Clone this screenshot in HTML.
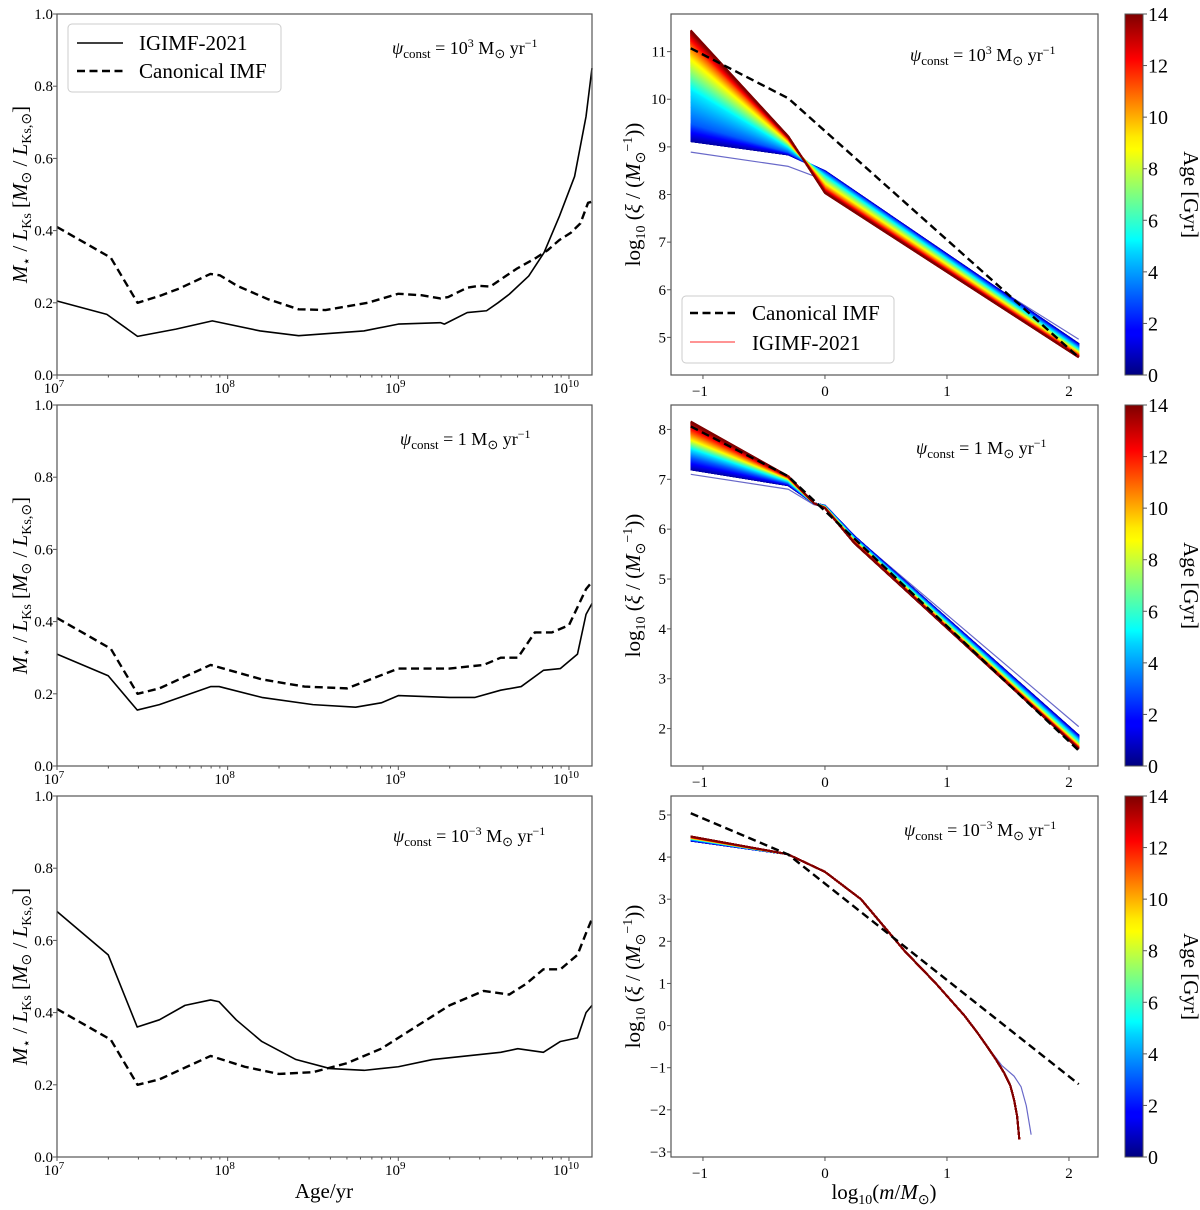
<!DOCTYPE html>
<html><head><meta charset="utf-8"><style>
body{margin:0;background:#fff}
svg{display:block}
text{font-family:"Liberation Serif",serif;fill:#000}
</style></head><body>
<svg id="fig" width="1200" height="1210" viewBox="0 0 1200 1210" xmlns="http://www.w3.org/2000/svg">
<defs>
<linearGradient id="jet" x1="0" y1="1" x2="0" y2="0">
<stop offset="0" stop-color="#00007f"/><stop offset="0.11" stop-color="#0000ff"/><stop offset="0.125" stop-color="#0000ff"/><stop offset="0.34" stop-color="#00d4ff"/><stop offset="0.375" stop-color="#0ff"/><stop offset="0.5" stop-color="#7fff7f"/><stop offset="0.625" stop-color="#ff0"/><stop offset="0.66" stop-color="#ffea00"/><stop offset="0.875" stop-color="#ff0000"/><stop offset="1" stop-color="#7f0000"/>
</linearGradient>
</defs>
<g id="root"></g>
</svg>
<script>
// ---------- Left panels data (log10 age, M/L) ----------
const topSolidT=[7.0,7.292,7.472,7.697,7.91,8.191,8.416,8.798,9.0,9.247,9.27,9.404,9.517,9.584,9.651,9.764,9.854,9.944,10.033,10.1,10.135];
const topSolidV=[0.205,0.168,0.107,0.127,0.15,0.122,0.109,0.122,0.141,0.145,0.141,0.173,0.178,0.2,0.224,0.274,0.339,0.44,0.55,0.716,0.85];
const topDashT=[7.0,7.315,7.472,7.607,7.719,7.899,7.955,8.056,8.236,8.416,8.573,8.82,9.0,9.135,9.247,9.292,9.404,9.472,9.539,9.629,9.696,9.809,9.876,9.944,10.011,10.067,10.112,10.135];
const topDashV=[0.41,0.325,0.2,0.22,0.24,0.28,0.276,0.247,0.21,0.182,0.18,0.2,0.225,0.221,0.212,0.216,0.242,0.247,0.245,0.274,0.295,0.325,0.346,0.374,0.394,0.42,0.477,0.48];
const midSolidT=[7.0,7.3,7.47,7.6,7.9,7.95,8.2,8.5,8.75,8.9,9.0,9.3,9.45,9.6,9.72,9.85,9.95,10.05,10.1,10.135];
const midSolidV=[0.31,0.25,0.155,0.17,0.22,0.22,0.19,0.17,0.163,0.175,0.195,0.19,0.19,0.21,0.22,0.265,0.27,0.31,0.42,0.45];
const midDashT=[7.0,7.315,7.472,7.6,7.9,8.2,8.45,8.7,9.0,9.3,9.5,9.6,9.7,9.8,9.9,10.0,10.1,10.135];
const midDashV=[0.41,0.325,0.2,0.215,0.28,0.24,0.22,0.215,0.27,0.27,0.28,0.3,0.3,0.37,0.37,0.39,0.49,0.51];
const botSolidT=[7.0,7.3,7.47,7.6,7.75,7.9,7.95,8.05,8.2,8.4,8.6,8.8,9.0,9.2,9.4,9.6,9.7,9.85,9.95,10.05,10.1,10.135];
const botSolidV=[0.68,0.56,0.36,0.38,0.42,0.435,0.43,0.38,0.32,0.27,0.245,0.24,0.25,0.27,0.28,0.29,0.30,0.29,0.32,0.33,0.40,0.42];
const botDashT=[7.0,7.315,7.472,7.6,7.9,8.1,8.3,8.5,8.7,8.9,9.1,9.3,9.5,9.65,9.75,9.85,9.95,10.05,10.1,10.135];
const botDashV=[0.41,0.325,0.2,0.215,0.28,0.25,0.23,0.235,0.26,0.30,0.36,0.42,0.46,0.45,0.48,0.52,0.52,0.56,0.62,0.66];
const leftYTicks=[0,0.2,0.4,0.6,0.8,1.0];
const leftYTickLabels=["0.0","0.2","0.4","0.6","0.8","1.0"];
const leftXTicks=[7,8,9,10];
const leftXTickLabels=["7","8","9","10"];
// ---------- Right panels data (log10 m, log10 xi) ----------
const canonX=[-1.1,-0.301,2.08];
const canonTop=[11.07,10.02,4.58];
const canonMid=[8.06,7.06,1.56];
const canonBot=[5.04,4.06,-1.39];
const topKnotX=[-1.1,-0.3,0,2.08];
const topAges=[0.5,3,5,7,9,11,14];
const topRows=[[9.12,8.84,8.49,4.86],[9.5,8.9,8.45,4.8],[10.2,9.0,8.38,4.74],[10.55,9.06,8.3,4.7],[10.9,9.12,8.2,4.66],[11.15,9.17,8.12,4.62],[11.45,9.22,8.03,4.58]];
const topOutlierY=[8.89,8.59,8.3,4.96];
const midKnotX=[-1.1,-0.3,-0.09,0,0.24,2.08];
const midAges=[0.5,3,5,7,9,11,14];
const midRows=[[7.2,6.88,6.52,6.47,5.86,1.86],[7.45,6.93,6.52,6.46,5.83,1.8],[7.62,6.97,6.52,6.45,5.8,1.74],[7.72,7.0,6.52,6.44,5.77,1.69],[7.82,7.02,6.52,6.43,5.75,1.65],[7.95,7.04,6.52,6.43,5.74,1.62],[8.16,7.06,6.52,6.42,5.72,1.59]];
const midOutlierY=[7.10,6.80,6.49,6.44,5.86,2.04];
const botKnotX=[-1.1,-0.306,0,0.295,0.65,0.9,1.142,1.25,1.33,1.4,1.47,1.52,1.55,1.575,1.593];
const botAges=[0.5,5,14];
const botRows=[[4.39,4.07,3.65,3.0,1.78,1.03,0.24,-0.17,-0.5,-0.8,-1.13,-1.43,-1.76,-2.15,-2.7],[4.44,4.07,3.65,3.0,1.78,1.03,0.24,-0.17,-0.5,-0.8,-1.13,-1.43,-1.76,-2.15,-2.7],[4.49,4.07,3.65,3.0,1.78,1.03,0.24,-0.17,-0.5,-0.8,-1.13,-1.43,-1.76,-2.15,-2.7]];
const botOutlierX=[-1.1,-0.306,0,0.295,0.65,0.9,1.142,1.28,1.45,1.55,1.607,1.65,1.69];
const botOutlierY=[4.39,4.07,3.65,3.0,1.78,1.03,0.24,-0.3,-0.95,-1.2,-1.45,-1.9,-2.59];
const rightXTicks=[-1,0,1,2];
const cbarTicks=[0,2,4,6,8,10,12,14];

const NS="http://www.w3.org/2000/svg";
const root=document.getElementById('root');
function el(tag,attrs,parent,txt){const e=document.createElementNS(NS,tag);for(const k in attrs)e.setAttribute(k,attrs[k]);if(txt!==undefined)e.textContent=txt;(parent||root).appendChild(e);return e;}
function jet(v){const r=Math.min(Math.max(Math.min(4*v-1.5,-4*v+4.5),0),1),g=Math.min(Math.max(Math.min(4*v-0.5,-4*v+3.5),0),1),b=Math.min(Math.max(Math.min(4*v+0.5,-4*v+2.5),0),1);return `rgb(${Math.round(r*255)},${Math.round(g*255)},${Math.round(b*255)})`;}

const LX0=57,LX1=592,RX0=671,RX1=1098;
const rows=[[14,375],[405,766],[796,1157]];
function lx(t){return LX0+(t-7)*(LX1-LX0)/3.135;}
function rxf(m){return RX0+(m+1.262)*(RX1-RX0)/3.5;}

function poly(pts,attrs,name){const p=el('polyline',Object.assign({points:pts.map(q=>q[0].toFixed(2)+','+q[1].toFixed(2)).join(' '),fill:'none','stroke-linejoin':'round'},attrs));return p;}

function psiLabel(x,y,expo,name){
  const t=el('text',{x:x,y:y,'font-size':18});
  
  el('tspan',{'font-style':'italic'},t,'ψ');
  el('tspan',{dy:4,'font-size':13},t,'const');
  el('tspan',{dy:-4},t,' = '+(expo===null?'1':'10'));
  if(expo!==null) el('tspan',{dy:-7,'font-size':12},t,expo);
  el('tspan',{dy:expo!==null?7:0},t,' M');
  el('tspan',{dy:4,'font-size':13},t,'⊙');
  el('tspan',{dy:-4},t,' yr');
  el('tspan',{dy:-7,'font-size':12},t,'−1');
}

// ---------- Left panels ----------
const leftSets=[[topSolidT,topSolidV,topDashT,topDashV,'3'],[midSolidT,midSolidV,midDashT,midDashV,null],[botSolidT,botSolidV,botDashT,botDashV,'−3']];
leftSets.forEach((s,i)=>{
  const [y0,y1]=rows[i];const Y=v=>y1-v*(y1-y0);
  poly(s[0].map((t,k)=>[lx(t),Y(s[1][k])]),{stroke:'#000','stroke-width':1.6},'igimf-ml-line-'+(i+1));
  poly(s[2].map((t,k)=>[lx(t),Y(s[3][k])]),{stroke:'#000','stroke-width':2.4,'stroke-dasharray':'8,4.5'},'canonical-ml-line-'+(i+1));
  const fr=el('rect',{x:LX0,y:y0,width:LX1-LX0,height:y1-y0,fill:'none',stroke:'#555','stroke-width':1.2});
  
  leftYTicks.forEach((v,k)=>{el('line',{x1:LX0-4,x2:LX0,y1:Y(v),y2:Y(v),stroke:'#555'});
    const t=el('text',{x:LX0-4,y:Y(v)+5,'text-anchor':'end','font-size':15},root,leftYTickLabels[k]);});
  for(let d=7;d<=10;d++)for(let m=1;m<=9;m++){const tv=d+Math.log10(m);if(tv>10.135)continue;const x=lx(tv);el('line',{x1:x,x2:x,y1:y1,y2:y1+(m===1?4:2.5),stroke:'#555'});}
  leftXTicks.forEach((d,k)=>{const x=lx(d);const t=el('text',{x:x-3,y:y1+18,'text-anchor':'middle','font-size':15});el('tspan',{},t,'10');el('tspan',{dy:-6,'font-size':11},t,leftXTickLabels[k]);});
  const yl=el('text',{transform:`translate(27,${(y0+y1)/2}) rotate(-90)`,'text-anchor':'middle','font-size':21});
  
  el('tspan',{'font-style':'italic'},yl,'M');el('tspan',{dy:4,'font-size':14},yl,'⋆');el('tspan',{dy:-4},yl,' / ');el('tspan',{'font-style':'italic'},yl,'L');el('tspan',{dy:4,'font-size':14},yl,'Ks');el('tspan',{dy:-4},yl,' [');el('tspan',{'font-style':'italic'},yl,'M');el('tspan',{dy:4,'font-size':14},yl,'⊙');el('tspan',{dy:-4},yl,' / ');el('tspan',{'font-style':'italic'},yl,'L');el('tspan',{dy:4,'font-size':14},yl,'Ks,⊙');el('tspan',{dy:-4},yl,']');
  psiLabel(i===1?400:(i===0?392:393),y0+(i===2?46:40),s[4],'sfr-annotation-left-'+(i+1));
});
const xl=el('text',{x:324,y:1198,'text-anchor':'middle','font-size':21},root,'Age/yr');
const lg=el('g',{});
el('rect',{x:68,y:24,width:213,height:68,rx:4,fill:'#fff',stroke:'#ccc'},lg);
el('line',{x1:77,x2:123,y1:43,y2:43,stroke:'#000','stroke-width':1.6},lg);
el('line',{x1:77,x2:123,y1:71,y2:71,stroke:'#000','stroke-width':2.4,'stroke-dasharray':'8,4.5'},lg);
const le1=el('text',{x:139,y:50,'font-size':21},lg,'IGIMF-2021');
const le2=el('text',{x:139,y:78,'font-size':21},lg,'Canonical IMF');

// ---------- Right panels ----------
const rightSets=[
 {lim:[4.21,11.79],ticks:[5,6,7,8,9,10,11],kx:topKnotX,ages:topAges,rows:topRows,ox:topKnotX,oy:topOutlierY,canon:canonTop,expo:'3',lx:910,ly:61},
 {lim:[1.25,8.49],ticks:[2,3,4,5,6,7,8],kx:midKnotX,ages:midAges,rows:midRows,ox:midKnotX,oy:midOutlierY,canon:canonMid,expo:null,lx:916,ly:454},
 {lim:[-3.12,5.45],ticks:[-3,-2,-1,0,1,2,3,4,5],kx:botKnotX,ages:botAges,rows:botRows,ox:botOutlierX,oy:botOutlierY,canon:canonBot,expo:'−3',lx:904,ly:836}
];
rightSets.forEach((s,i)=>{
  const [y0,y1]=rows[i];const Y=v=>y1-(v-s.lim[0])/(s.lim[1]-s.lim[0])*(y1-y0);
  poly(s.ox.map((m,k)=>[rxf(m),Y(s.oy[k])]),{stroke:'#4444bb','stroke-opacity':0.8,'stroke-width':1.2},'imf-youngest-line-'+(i+1));
  const nA=s.ages.length;
  for(let a=0.25;a<=14.001;a+=0.05){
    let j=0;while(j<nA-2&&a>s.ages[j+1])j++;
    let f=(a-s.ages[j])/(s.ages[j+1]-s.ages[j]);f=Math.max(0,Math.min(1,f));
    const pts=s.kx.map((m,k)=>[rxf(m),Y(s.rows[j][k]*(1-f)+s.rows[j+1][k]*f)]);
    poly(pts,{stroke:jet(a/14),'stroke-width':1.8},'imf-age-line');
  }
  poly(s.canon.map((v,k)=>[rxf(canonX[k]),Y(v)]),{stroke:'#000','stroke-width':2.4,'stroke-dasharray':'8,4.5'},'canonical-imf-line-'+(i+1));
  const fr=el('rect',{x:RX0,y:y0,width:RX1-RX0,height:y1-y0,fill:'none',stroke:'#555','stroke-width':1.2});
  
  s.ticks.forEach(v=>{el('line',{x1:RX0-4,x2:RX0,y1:Y(v),y2:Y(v),stroke:'#555'});
    const t=el('text',{x:RX0-5,y:Y(v)+5,'text-anchor':'end','font-size':15},root,v<0?'−'+(-v):String(v));});
  rightXTicks.forEach(v=>{const x=rxf(v);el('line',{x1:x,x2:x,y1:y1,y2:y1+4,stroke:'#555'});
    const t=el('text',{x:x-(v<0?3:0),y:y1+21,'text-anchor':'middle','font-size':15},root,v<0?'−'+(-v):String(v));});
  const yl=el('text',{transform:`translate(640,${(y0+y1)/2}) rotate(-90)`,'text-anchor':'middle','font-size':21});
  
  el('tspan',{},yl,'log');el('tspan',{dy:5,'font-size':14},yl,'10');el('tspan',{dy:-5},yl,' (');el('tspan',{'font-style':'italic'},yl,'ξ');el('tspan',{},yl,' / (');el('tspan',{'font-style':'italic'},yl,'M');el('tspan',{dy:5,'font-size':14},yl,'⊙');el('tspan',{dy:-13,'font-size':14},yl,'−1');el('tspan',{dy:8},yl,'))');
  psiLabel(s.lx,s.ly,s.expo,'sfr-annotation-right-'+(i+1));
  const cb=el('rect',{x:1125,y:y0,width:18,height:y1-y0,fill:'url(#jet)',stroke:'#555','stroke-width':1});
  
  cbarTicks.forEach(v=>{const y=y1-v/14*(y1-y0);el('line',{x1:1143,x2:1147,y1:y,y2:y,stroke:'#555'});
    const t=el('text',{x:1148,y:y+7,'font-size':20},root,String(v));});
  const ct=el('text',{transform:`translate(1184,${(y0+y1)/2}) rotate(90)`,'text-anchor':'middle','font-size':21},root,'Age [Gyr]');
  
});
const rxl=el('text',{x:884,y:1199,'text-anchor':'middle','font-size':21});
el('tspan',{},rxl,'log');el('tspan',{dy:5,'font-size':14},rxl,'10');el('tspan',{dy:-5},rxl,'(');el('tspan',{'font-style':'italic'},rxl,'m');el('tspan',{},rxl,'/');el('tspan',{'font-style':'italic'},rxl,'M');el('tspan',{dy:5,'font-size':14},rxl,'⊙');el('tspan',{dy:-5},rxl,')');
const rg=el('g',{});
el('rect',{x:682,y:296,width:212,height:67,rx:4,fill:'#fff','fill-opacity':0.85,stroke:'#ccc'},rg);
el('line',{x1:690,x2:735,y1:313,y2:313,stroke:'#000','stroke-width':2.4,'stroke-dasharray':'8,4.5'},rg);
el('line',{x1:690,x2:735,y1:342,y2:342,stroke:'#ff7070','stroke-width':1.6},rg);
const r1=el('text',{x:752,y:320,'font-size':21},rg,'Canonical IMF');
const r2=el('text',{x:752,y:350,'font-size':21},rg,'IGIMF-2021');
</script>
</body></html>
